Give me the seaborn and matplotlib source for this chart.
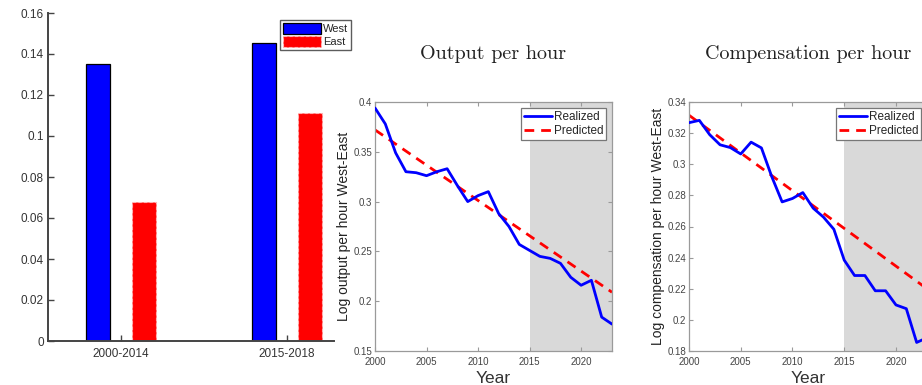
import numpy as np
import pandas as pd
import matplotlib
matplotlib.use("Agg")
import matplotlib.pyplot as plt
import seaborn as sns
from matplotlib.ticker import FuncFormatter, MultipleLocator

# ---- data ----
periods = ["2000-2014", "2015-2018"]
west_vals = [0.135, 0.1455]
east_vals = [0.068, 0.1114]

years = list(range(2000, 2024))
output_realized = [0.394, 0.378, 0.349, 0.330, 0.329, 0.326, 0.330, 0.333,
                   0.316, 0.300, 0.306, 0.310, 0.288, 0.275, 0.257, 0.251,
                   0.245, 0.243, 0.238, 0.224, 0.216, 0.221, 0.184, 0.177]
output_pred_years = [2000, 2023]
output_predicted = [0.372, 0.209]

comp_realized = [0.3267, 0.3282, 0.3190, 0.3125, 0.3107, 0.3066, 0.3142, 0.3105,
                 0.2920, 0.2758, 0.2780, 0.2818, 0.2718, 0.2660, 0.2582, 0.2384,
                 0.2285, 0.2285, 0.2187, 0.2187, 0.2096, 0.2072, 0.1855, 0.1885]
comp_pred_years = [2000, 2023]
comp_predicted = [0.3315, 0.2200]

sns.set_theme(style="white")
plt.rcParams["font.family"] = ["Liberation Sans", "DejaVu Sans"]

fig = plt.figure(figsize=(9.22, 3.85), dpi=100)
W, H = 922.0, 385.0

def ax_rect(x0, y0, x1, y1):
    return [x0 / W, 1 - y1 / H, (x1 - x0) / W, (y1 - y0) / H]

fmt = FuncFormatter(lambda v, p: "%g" % round(v, 4))

# ---- left bar chart ----
ax0 = fig.add_axes(ax_rect(48, 13, 334, 341))
df_bar = pd.DataFrame({
    "period": periods * 2,
    "region": ["West"] * len(periods) + ["East"] * len(periods),
    "value": west_vals + east_vals,
})
sns.barplot(data=df_bar, x="period", y="value", hue="region",
            palette={"West": "#0000ff", "East": "#ff0000"},
            width=0.56, gap=0.48, ax=ax0, saturation=1, legend=True)
for patch in ax0.patches:
    fc = patch.get_facecolor()
    if fc[0] > 0.5:  # red (East)
        patch.set_edgecolor("#ffb3b3")
        patch.set_linestyle((0, (3, 2)))
        patch.set_linewidth(0.8)
    else:
        patch.set_edgecolor("black")
        patch.set_linewidth(0.9)
ax0.set_xlim(-0.44, 1.283)
ax0.set_ylim(0, 0.16)
ax0.yaxis.set_major_locator(MultipleLocator(0.02))
ax0.yaxis.set_major_formatter(fmt)
ax0.set_xlabel("")
ax0.set_ylabel("")
for s in ["top", "right"]:
    ax0.spines[s].set_visible(False)
for s in ["left", "bottom"]:
    ax0.spines[s].set_color("#444444")
    ax0.spines[s].set_linewidth(1.4)
ax0.tick_params(direction="in", length=4, width=1, colors="#444444",
                labelsize=8.5, labelcolor="#333333", left=True, bottom=True)
ax0.tick_params(axis="y", pad=3)
ax0.tick_params(axis="x", pad=5)
handles, labels = ax0.get_legend_handles_labels()
ax0.legend_.remove()
leg0 = fig.legend(handles, labels, loc="upper right",
                  bbox_to_anchor=(351 / W, 1 - 20 / H), fontsize=8,
                  frameon=True, fancybox=False, edgecolor="#333333",
                  handlelength=3.4, handleheight=1.2, handletextpad=0.2,
                  borderpad=0.25, labelspacing=0.15, borderaxespad=0)
leg0.get_frame().set_linewidth(1.0)

# ---- line panels ----
def line_panel(ax, realized, pyears, predicted, ylim, ystep, ylabel, title):
    ax.axvspan(2015, 2023, color="#d9d9d9", lw=0, zorder=0)
    sns.lineplot(x=years, y=realized, ax=ax, color="#0000ff", lw=2.0,
                 label="Realized", zorder=3)
    sns.lineplot(x=pyears, y=predicted, ax=ax, color="#ff0000", lw=2.0,
                 dashes=False, label="Predicted", zorder=2)
    ax.lines[-1].set_dashes((3.5, 2.5))
    ax.set_xlim(2000, 2023)
    ax.set_ylim(*ylim)
    ax.xaxis.set_major_locator(MultipleLocator(5))
    ax.yaxis.set_major_locator(MultipleLocator(ystep))
    ax.yaxis.set_major_formatter(fmt)
    for s in ax.spines.values():
        s.set_color("#9a9a9a")
        s.set_linewidth(0.9)
    ax.tick_params(direction="in", length=3, width=0.8, colors="#9a9a9a",
                   labelcolor="#444444", labelsize=7, top=True, right=True,
                   left=True, bottom=True, pad=2)
    ax.tick_params(axis="x", pad=4)
    ax.set_xlabel("Year", fontsize=12.5, color="#333333", labelpad=3)
    ax.set_ylabel(ylabel, fontsize=10, color="#222222", labelpad=2)
    ax.set_title(title, fontfamily=["cmr10", "DejaVu Serif"], fontsize=14.5,
                 pad=31, color="#222222")
    leg = ax.legend(loc="upper right", fontsize=8.5, frameon=True, fancybox=False,
                    edgecolor="#777777", facecolor="white", framealpha=1,
                    handlelength=2.4, handletextpad=0.15, borderpad=0.25,
                    labelspacing=0.2, borderaxespad=0.5)
    leg.get_frame().set_linewidth(0.9)

ax1 = fig.add_axes(ax_rect(375, 102, 612, 351))
line_panel(ax1, output_realized, output_pred_years, output_predicted,
           (0.15, 0.4), 0.05, "Log output per hour West-East", "Output per hour")

ax2 = fig.add_axes(ax_rect(689, 102, 927, 351))
line_panel(ax2, comp_realized, comp_pred_years, comp_predicted,
           (0.18, 0.34), 0.02, "Log compensation per hour West-East",
           "Compensation per hour")

fig.savefig("out.png", dpi=100)
